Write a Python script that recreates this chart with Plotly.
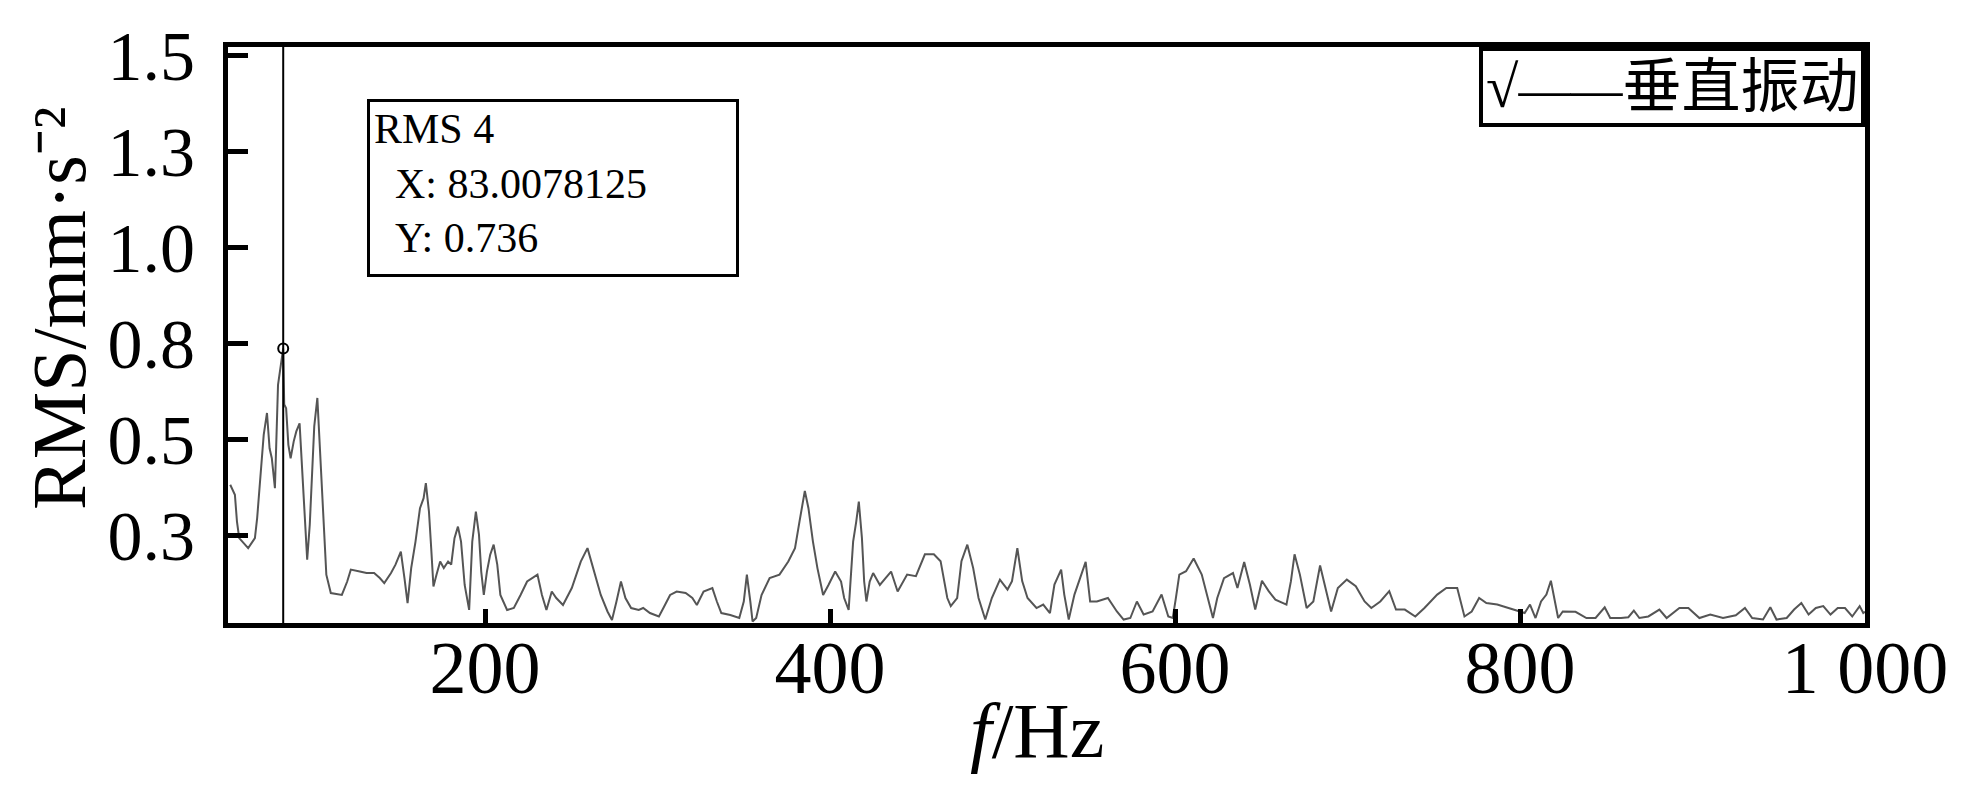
import plotly.graph_objects as go

# ---------------- data ----------------
freq = [52.3, 55, 56.2, 57.5, 62.7, 66.6, 67.9, 70, 71.7, 73.6, 75.1, 76.4, 78.2, 80, 83, 83.6, 84.7, 86, 87.3,
        89.1, 90.6, 92.5, 93.7, 95.8, 96.9, 98.4, 99.4, 101, 102.8, 104.1, 106.2, 108, 110.6, 117, 120.1,
        122.2, 127.4, 131.3, 135.7, 139, 141.6, 145.5, 148.1, 151.2, 153.3, 155.1, 157.2, 159.7, 162.3,
        164.4, 165.7, 167.5, 168.8, 170.1, 171.9, 174, 176.1, 178.6, 180.4, 182.3, 184.3, 186.1, 188.2,
        190.8, 192.6, 194.7, 196.5, 197.8, 199.3, 201.1, 203, 205, 207.1, 208.9, 212.8, 216.7, 220.6,
        224.4, 230.4, 233, 235.6, 238.7, 241.3, 245.2, 250.3, 255.5, 259.4, 263.3, 267.1, 271, 273.6,
        276.2, 278.8, 281.4, 284.7, 289.1, 291.7, 295.6, 300.8, 303.4, 307.3, 311.1, 316.3, 320.2, 322.8,
        326.7, 331.8, 334.4, 337, 342.2, 347.4, 350, 351.8, 353.8, 355.1, 357.2, 360.3, 365, 370.7, 375.8,
        379.7, 382.3, 385.4, 387.5, 390.1, 392.7, 396, 399.1, 403, 406.4, 408.2, 410.8, 413.4, 415.2,
        416.7, 418.5, 419.8, 421.1, 423, 425, 428.9, 432.2, 435.4, 439.2, 444.7, 449.8, 455, 460.2,
        464.1, 468, 470, 473.7, 476.2, 479.6, 483, 486.1, 490, 493.8, 498.5, 502.9, 505.5, 508.6, 511.4,
        514.5, 519.7, 523.6, 527.5, 530.1, 534, 535.8, 538.4, 541.7, 545.6, 548.2, 550.8, 554.7, 561.1,
        566.3, 570.2, 574.1, 577.9, 581.8, 587, 592.2, 596.1, 598.7, 600.5, 602.5, 606.4, 610.8, 615.5,
        619.4, 622, 624.5, 628.4, 633.6, 636.2, 640.1, 643.4, 646.5, 650.4, 654.3, 658.2, 664.6, 667.2,
        669.3, 672.4, 676.3, 680.2, 684.1, 687.4, 690.5, 694.4, 699.6, 704.8, 709.9, 713.8, 719, 724.2,
        728.1, 733.2, 739.3, 744.6, 752, 757.3, 763.6, 767.8, 772, 776.3, 780.5, 786.8, 793.2, 798.4,
        802.7, 805.8, 809, 812.2, 815.3, 817.9, 819.5, 822.1, 824.8, 832.2, 838.5, 843.8, 849.1, 852.3,
        858.6, 862.8, 866, 869.2, 874.4, 880.8, 885, 892.4, 897.6, 904, 910.3, 917.7, 925.1, 930.4,
        934.6, 940.9, 945.1, 948.7, 954.6, 958.9, 963.1, 967.3, 971.5, 975.8, 980, 984.2, 988.4, 992.6,
        996.9, 999, 1000]

rms = [0.381, 0.355, 0.285, 0.242, 0.216, 0.242, 0.294, 0.407, 0.511, 0.568, 0.476, 0.45, 0.372, 0.641, 0.736,
       0.59, 0.58, 0.485, 0.45, 0.494, 0.52, 0.541, 0.442, 0.277, 0.186, 0.277, 0.39, 0.533, 0.607, 0.494,
       0.277, 0.147, 0.099, 0.094, 0.129, 0.16, 0.155, 0.151, 0.151, 0.138, 0.125, 0.151, 0.173, 0.207,
       0.138, 0.073, 0.164, 0.233, 0.32, 0.346, 0.385, 0.311, 0.216, 0.116, 0.147, 0.181, 0.164, 0.181,
       0.173, 0.242, 0.272, 0.233, 0.12, 0.055, 0.233, 0.311, 0.251, 0.155, 0.094, 0.155, 0.199, 0.225,
       0.173, 0.094, 0.055, 0.06, 0.094, 0.129, 0.147, 0.094, 0.055, 0.103, 0.086, 0.068, 0.112, 0.181,
       0.216, 0.155, 0.094, 0.051, 0.029, 0.077, 0.129, 0.086, 0.06, 0.055, 0.06, 0.047, 0.038, 0.06,
       0.094, 0.103, 0.099, 0.086, 0.068, 0.103, 0.112, 0.077, 0.047, 0.042, 0.034, 0.077, 0.147, 0.077,
       0.025, 0.034, 0.094, 0.138, 0.147, 0.181, 0.216, 0.285, 0.365, 0.32, 0.233, 0.164, 0.094, 0.12,
       0.155, 0.129, 0.086, 0.055, 0.233, 0.285, 0.337, 0.242, 0.129, 0.077, 0.129, 0.151, 0.12, 0.138,
       0.155, 0.103, 0.147, 0.143, 0.2, 0.2, 0.182, 0.086, 0.065, 0.086, 0.182, 0.225, 0.164, 0.086, 0.03,
       0.086, 0.134, 0.108, 0.13, 0.216, 0.13, 0.086, 0.06, 0.069, 0.047, 0.121, 0.16, 0.095, 0.03, 0.095,
       0.147, 0.18, 0.077, 0.077, 0.086, 0.051, 0.03, 0.034, 0.077, 0.043, 0.051, 0.095, 0.038, 0.034,
       0.086, 0.147, 0.156, 0.189, 0.147, 0.077, 0.034, 0.086, 0.138, 0.151, 0.112, 0.18, 0.121, 0.056,
       0.131, 0.104, 0.082, 0.069, 0.13, 0.2, 0.147, 0.06, 0.077, 0.171, 0.112, 0.051, 0.112, 0.134,
       0.117, 0.077, 0.06, 0.077, 0.104, 0.056, 0.056, 0.038, 0.06, 0.095, 0.112, 0.112, 0.038, 0.051,
       0.086, 0.073, 0.069, 0.06, 0.051, 0.047, 0.069, 0.034, 0.077, 0.095, 0.131, 0.095, 0.034, 0.051,
       0.05, 0.034, 0.034, 0.062, 0.034, 0.034, 0.036, 0.053, 0.034, 0.038, 0.056, 0.034, 0.06, 0.06,
       0.034, 0.043, 0.034, 0.041, 0.06, 0.034, 0.03, 0.062, 0.03, 0.034, 0.056, 0.073, 0.043, 0.06,
       0.065, 0.043, 0.06, 0.06, 0.038, 0.065, 0.047, 0.05]

x_tickvals = [200, 400, 600, 800, 1000]
x_ticktext = ["200", "400", "600", "800", "1 000"]
y_tickvals = [0.25, 0.5, 0.75, 1.0, 1.25, 1.5]
y_ticktext = ["0.3", "0.5", "0.8", "1.0", "1.3", "1.5"]

cursor_name = "RMS 4"
cursor_x = 83.0078125
cursor_y = 0.736
legend_name = "垂直振动"

# ---------------- figure ----------------
SERIF = "Liberation Serif, Times New Roman, serif"
W, H = 1971, 787
ML, MR, MT, MB = 220, 114, 39, 172

fig = go.Figure()
fig.add_trace(go.Scatter(x=freq, y=rms, mode="lines", name=legend_name,
                         line=dict(color="#555555", width=2), showlegend=False))
fig.add_trace(go.Scatter(x=[cursor_x], y=[cursor_y], mode="markers", showlegend=False,
                         marker=dict(symbol="circle-open", size=10, color="black",
                                     line=dict(width=2, color="black"))))

fig.add_shape(type="line", xref="x", yref="paper", x0=cursor_x, x1=cursor_x, y0=0, y1=1,
              line=dict(color="black", width=2))

pw = W - ML - MR
ph = H - MT - MB

def px_x(p):
    return (p - ML) / pw

def px_y(p):
    return (H - MB - p) / ph

# data tip box
tip_text = (f"{cursor_name}<br>\u00a0\u00a0X: {cursor_x}<br>\u00a0\u00a0Y: {cursor_y}")
fig.add_annotation(xref="paper", yref="paper", x=px_x(359), y=px_y(91),
                   xanchor="left", yanchor="top", text=tip_text, showarrow=False,
                   align="left", valign="top", width=358, height=164,
                   font=dict(family=SERIF, size=42, color="black"),
                   bordercolor="black", borderwidth=3, borderpad=4, bgcolor="white")

# legend-like box
fig.add_annotation(xref="paper", yref="paper", x=1, y=1, xanchor="right", yanchor="top",
                   text="√<span style='font-size:52px'>——</span>" + legend_name, showarrow=False,
                   font=dict(family="Liberation Serif, Noto Sans CJK SC", size=59, color="black"),
                   bordercolor="black", borderwidth=4, borderpad=3, bgcolor="white")

# axis titles
fig.add_annotation(xref="paper", yref="paper", x=px_x(51), y=px_y(300),
                   xanchor="center", yanchor="middle", textangle=-90, showarrow=False,
                   text="RMS/mm·s⁻²",
                   font=dict(family=SERIF, size=76, color="black"))
fig.add_annotation(xref="paper", yref="paper", x=px_x(1029), y=px_y(722),
                   xanchor="center", yanchor="middle", showarrow=False,
                   text="<i>f</i>/Hz",
                   font=dict(family=SERIF, size=78, color="black"))

fig.update_xaxes(range=[51, 1000], tickvals=x_tickvals, ticktext=x_ticktext,
                 ticks="inside", ticklen=14, tickwidth=5, tickcolor="black",
                 showline=True, linewidth=5, linecolor="black", mirror=True,
                 showgrid=False, zeroline=False, automargin=False, ticklabelstandoff=-24,
                 tickfont=dict(family=SERIF, size=74, color="black"))
fig.update_yaxes(range=[0.021, 1.521], tickvals=y_tickvals, ticktext=y_ticktext,
                 ticks="inside", ticklen=20, tickwidth=5, tickcolor="black",
                 showline=True, linewidth=5, linecolor="black", mirror=True,
                 showgrid=False, zeroline=False, automargin=False, ticklabelstandoff=14,
                 tickfont=dict(family=SERIF, size=70, color="black"))

fig.update_layout(width=W, height=H, margin=dict(l=ML, r=MR, t=MT, b=MB, autoexpand=False),
                  paper_bgcolor="white", plot_bgcolor="white", showlegend=False)

fig.write_html("out.html")
